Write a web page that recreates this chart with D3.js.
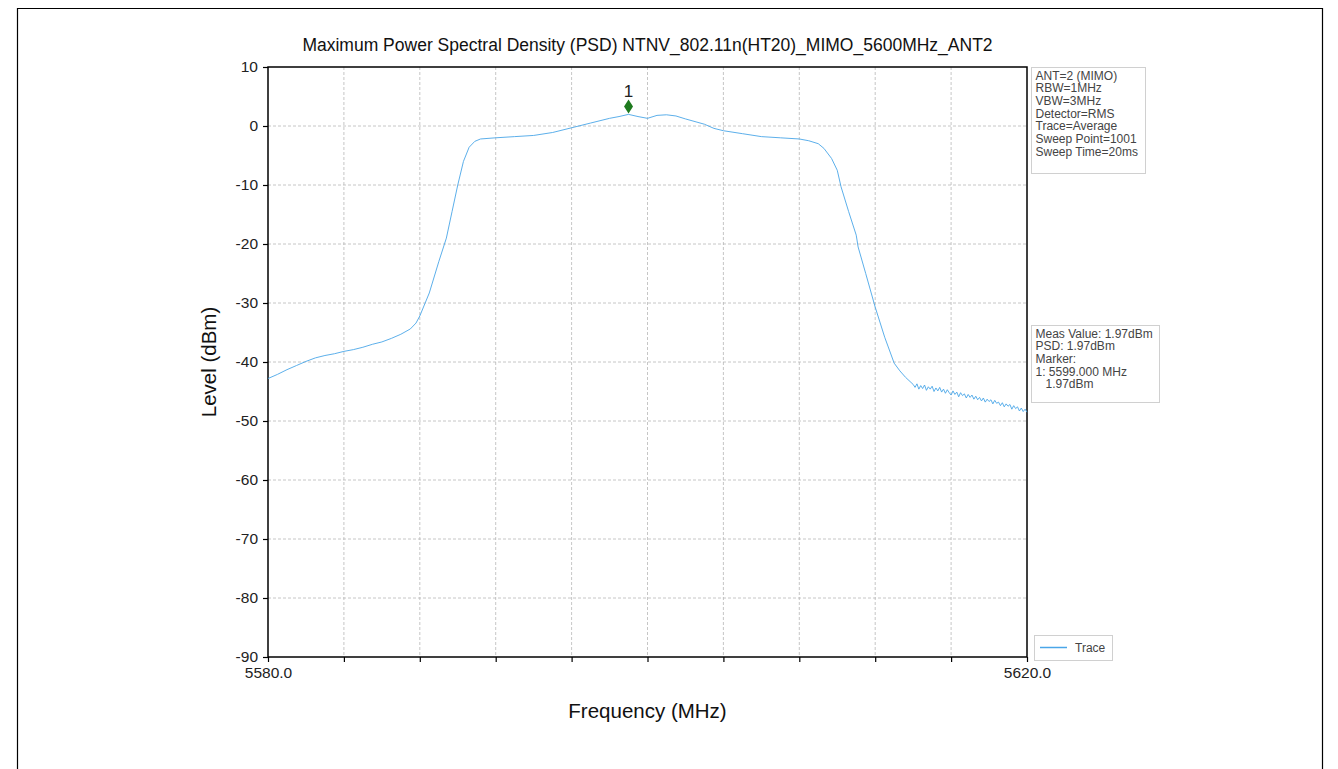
<!DOCTYPE html>
<html><head><meta charset="utf-8">
<script src="https://cdn.jsdelivr.net/npm/d3@7"></script>
<style>body{margin:0;background:#fff}svg{display:block;font-family:"Liberation Sans",Arial,sans-serif}</style>
</head><body>
<svg id="c" width="1338" height="769"></svg>
<script>
const title = "Maximum Power Spectral Density (PSD) NTNV_802.11n(HT20)_MIMO_5600MHz_ANT2";
const xLabel = "Frequency (MHz)";
const yLabel = "Level (dBm)";
const xDomain = [5580, 5620];
const yDomain = [-90, 10];
const xTickValues = [5580,5584,5588,5592,5596,5600,5604,5608,5612,5616,5620];
const xTickLabels = ["5580.0","","","","","","","","","","5620.0"];
const yTickValues = [10,0,-10,-20,-30,-40,-50,-60,-70,-80,-90];
const infoLines = ["ANT=2 (MIMO)","RBW=1MHz","VBW=3MHz","Detector=RMS","Trace=Average","Sweep Point=1001","Sweep Time=20ms"];
const measLines = ["Meas Value: 1.97dBm","PSD: 1.97dBm","Marker:","1: 5599.000 MHz","   1.97dBm"];
const legendLabel = "Trace";
const markerFreq = 5599.0;
const markerLevel = 1.97;
const markerLabel = "1";

const traceFreq = [
5580.0,5580.5,5581.0,5581.5,5582.0,5582.5,5583.0,5583.5,5584.0,5584.5,5585.0,5585.5,5586.0,5586.5,5587.0,5587.5,5587.8,
5588.0,5588.5,5589.0,5589.4,5589.7,5590.0,5590.3,5590.6,5590.9,5591.2,5592.0,5593.0,5594.0,5595.0,5596.0,5597.0,5598.0,5598.5,
5599.0,5599.5,5600.0,5600.5,5601.0,5601.5,5602.0,5603.0,5603.5,5604.0,5605.0,5606.0,5607.0,5608.0,5608.5,5609.0,5609.3,5609.7,
5610.0,5610.2,5610.6,5611.0,5611.1,5611.5,5612.0,5612.5,5613.0,5613.3,5613.6,5614.0,
5614.1,5614.2,5614.3,5614.4,5614.5,5614.6,5614.7,5614.8,5614.9,5615.0,5615.1,5615.2,5615.3,5615.4,5615.5,5615.6,5615.7,5615.8,5615.9,
5616.0,5616.1,5616.2,5616.3,5616.4,5616.5,5616.6,5616.7,5616.8,5616.9,5617.0,5617.1,5617.2,5617.3,5617.4,5617.5,5617.6,5617.7,5617.8,5617.9,
5618.0,5618.1,5618.2,5618.3,5618.4,5618.5,5618.6,5618.7,5618.8,5618.9,5619.0,5619.1,5619.2,5619.3,5619.4,5619.5,5619.6,5619.7,5619.8,5619.9,5620.0];
const traceLevel = [
-42.8,-42.1,-41.3,-40.6,-39.9,-39.3,-38.9,-38.6,-38.2,-37.9,-37.5,-37.0,-36.6,-36.0,-35.3,-34.4,-33.4,
-32.2,-28.3,-23.0,-19.0,-14.5,-10.0,-6.0,-3.6,-2.6,-2.2,-2.0,-1.8,-1.6,-1.1,-0.3,0.5,1.3,1.6,
1.97,1.6,1.3,1.8,1.9,1.7,1.2,0.3,-0.4,-0.8,-1.3,-1.8,-2.0,-2.2,-2.5,-3.0,-3.8,-5.5,
-7.5,-10.3,-14.5,-18.5,-20.5,-25.0,-30.7,-35.8,-40.2,-41.5,-42.6,-43.8,
-44.3,-43.7,-44.6,-44.0,-44.5,-43.9,-44.8,-44.2,-44.6,-44.1,-45.0,-44.4,-44.9,-44.3,-45.1,-44.6,-45.3,-44.7,-45.2,
-45.6,-44.9,-45.5,-45.1,-45.9,-45.2,-45.7,-45.4,-46.1,-45.5,-46.0,-45.6,-46.3,-45.8,-46.4,-46.0,-46.6,-46.1,-46.8,-46.3,
-46.7,-46.4,-47.1,-46.5,-47.0,-46.8,-47.4,-46.9,-47.6,-47.1,-47.5,-47.2,-48.0,-47.4,-47.9,-47.6,-48.3,-47.8,-48.4,-48.0,-48.5];

const svg = d3.select("#c");
const L = 268, R = 1027, T = 67, B = 657;
const x = d3.scaleLinear().domain(xDomain).range([L, R]);
const y = d3.scaleLinear().domain(yDomain).range([B, T]);
const FF = "Liberation Sans, Arial, sans-serif";

// outer frame
svg.append("path").attr("d","M17.5,780V8.5H1322.5V780").attr("fill","none").attr("stroke","#000").attr("stroke-width",1.2);

// grid
const grid = svg.append("g").attr("stroke","#b8b8b8").attr("stroke-width",0.8).attr("stroke-dasharray","3,2");
grid.selectAll(".vx").data(xTickValues.slice(1,-1)).join("line")
  .attr("x1",d=>x(d)).attr("x2",d=>x(d)).attr("y1",T).attr("y2",B);
grid.selectAll(".hy").data(yTickValues.slice(1,-1)).join("line")
  .attr("y1",d=>y(d)).attr("y2",d=>y(d)).attr("x1",L).attr("x2",R);

// axes
const xAxis = d3.axisBottom(x).tickValues(xTickValues).tickSize(5).tickPadding(5)
  .tickFormat((d,i)=>xTickLabels[i]);
const gx = svg.append("g").attr("transform",`translate(0,${B})`).call(xAxis);
gx.select(".domain").remove();
gx.selectAll("line").attr("stroke","#000").attr("stroke-width",1.2);
gx.selectAll("text").attr("font-size",15.5).attr("fill","#222").attr("font-family",FF);

const yAxis = d3.axisLeft(y).tickValues(yTickValues).tickSize(5).tickPadding(5).tickFormat(d=>String(d));
const gy = svg.append("g").attr("transform",`translate(${L},0)`).call(yAxis);
gy.select(".domain").remove();
gy.selectAll("line").attr("stroke","#000").attr("stroke-width",1.2);
gy.selectAll("text").attr("font-size",15.5).attr("fill","#222").attr("font-family",FF);

// spines
svg.append("rect").attr("x",L).attr("y",T).attr("width",R-L).attr("height",B-T)
  .attr("fill","none").attr("stroke","#000").attr("stroke-width",1.5);

// trace
const line = d3.line().x((d,i)=>x(traceFreq[i])).y(d=>y(d));
svg.append("path").datum(traceLevel).attr("d",line).attr("fill","none")
  .attr("stroke","#4aa6e8").attr("stroke-width",0.9);

// marker
const mx = x(markerFreq), my = y(markerLevel) - 8;
svg.append("path").attr("d",`M${mx},${my-7}L${mx+4.5},${my}L${mx},${my+7}L${mx-4.5},${my}Z`).attr("fill","#1e7a1e");
svg.append("text").attr("x",mx).attr("y",my-9).attr("text-anchor","middle").attr("font-size",17).attr("fill","#222").text(markerLabel);

// title and labels
svg.append("text").attr("x",(L+R)/2).attr("y",51).attr("text-anchor","middle").attr("font-size",17.5).attr("fill","#111").text(title);
svg.append("text").attr("x",(L+R)/2).attr("y",718).attr("text-anchor","middle").attr("font-size",20.5).attr("fill","#111").text(xLabel);
svg.append("text").attr("transform",`translate(216,${(T+B)/2}) rotate(-90)`).attr("text-anchor","middle").attr("font-size",20.5).attr("fill","#111").text(yLabel);

// info boxes
function box(lines, bx, by, bw, bh){
  svg.append("rect").attr("x",bx).attr("y",by).attr("width",bw).attr("height",bh).attr("fill","#fff").attr("stroke","#d0d0d0").attr("stroke-width",1);
  svg.append("g").selectAll("text").data(lines).join("text")
    .attr("x",bx+4).attr("y",(d,i)=>by+12+i*12.7).attr("font-size",12).attr("fill","#444")
    .attr("xml:space","preserve").style("white-space","pre").text(d=>d);
}
box(infoLines, 1031.5, 67.5, 114, 106);
box(measLines, 1031.5, 325.5, 128, 77);

// legend
svg.append("rect").attr("x",1034.5).attr("y",635.5).attr("width",78).attr("height",25).attr("fill","#fff").attr("stroke","#d0d0d0");
svg.append("line").attr("x1",1040).attr("x2",1067).attr("y1",647.5).attr("y2",647.5).attr("stroke","#4aa6e8").attr("stroke-width",1.5);
svg.append("text").attr("x",1075).attr("y",652).attr("font-size",12).attr("fill","#444").text(legendLabel);
</script>
</body></html>
